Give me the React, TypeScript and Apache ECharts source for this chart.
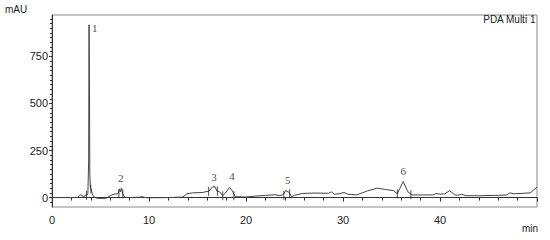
import React, { useEffect, useRef } from "react";
import * as echarts from "echarts";

// Chromatogram trace: [retention time (min), absorbance (mAU)]
const traceTimes = [0, 2.6, 2.8, 2.95, 3.1, 3.3, 3.5, 3.6, 3.7, 3.78, 3.82, 3.86, 3.9, 3.95, 4.05, 4.15, 4.3, 4.6, 5.2, 5.6, 6.0, 6.4, 6.8, 6.95, 7.05, 7.15, 7.3, 7.5, 8, 9, 9.3, 9.6, 10, 12, 13.5, 13.9, 14.5, 15.5, 16.2, 16.5, 16.8, 17.0, 17.3, 17.6, 17.9, 18.3, 18.6, 18.9, 20, 21, 22, 23, 23.5, 23.8, 24.1, 24.4, 24.7, 25, 25.8, 27, 28.5, 28.8, 29.1, 29.6, 30.1, 30.5, 31.4, 32.5, 33.5, 34.5, 35.2, 35.6, 36.2, 36.7, 37.1, 38, 39.3, 39.6, 40, 40.5, 41, 41.5, 41.8, 42.2, 42.7, 44, 46, 46.9, 47.2, 47.6, 49.3, 50];
const traceValues = [0, 0, 8, 15, 10, 5, 15, 12, 20, 200, 918, 600, 120, 55, 45, 20, 5, -3, -5, -3, 10, 18, 20, 45, 30, 50, 20, 2, 0, 2, 5, 0, -1, 0, 3, 20, 25, 27, 35, 55, 58, 35, 30, 10, 25, 55, 35, 5, 3, 8, 12, 15, 10, 15, 37, 30, 5, 12, 22, 24, 23, 30, 18, 20, 27, 18, 14, 35, 50, 42, 37, 20, 85, 30, 14, 14, 14, 22, 18, 20, 37, 15, 12, 18, 10, 10, 12, 14, 25, 20, 25, 55];

// Peak numbers and label anchor positions
const peakNames = ["1", "2", "3", "4", "5", "6"];
const peakLabelTimes = [4.4, 7.1, 16.7, 18.55, 24.3, 36.2];
const peakLabelValues = [900, 105, 110, 115, 94, 142];

// Integration start/end marks
const markTimes = [3.55, 4.0, 6.9, 7.3, 16.15, 17.05, 17.6, 18.75, 23.9, 24.5, 35.6, 37.0];
const markValues = [12, 45, 20, 20, 33, 35, 10, 10, 12, 20, 20, 15];

const yMajorTicks = [0, 250, 500, 750];
const yMinorTicks = Array.from({ length: 40 }, (_, i) => -25 + i * 25);

export default function App() {
  const ref = useRef<HTMLDivElement>(null);
  useEffect(() => {
    if (!ref.current) return;
    const chart = echarts.init(ref.current, null, { renderer: "svg" });
    const sans = "'Liberation Sans', Arial, sans-serif";
    const serif = "'Liberation Serif', 'Times New Roman', serif";
    chart.setOption({
      animation: false,
      backgroundColor: "#fff",
      grid: { left: 52, top: 15, right: 13, bottom: 33, show: true, borderColor: "#888", borderWidth: 1 },
      xAxis: {
        type: "value",
        min: 0,
        max: 50,
        interval: 10,
        axisLine: { lineStyle: { color: "#333" } },
        axisTick: { length: 4, lineStyle: { color: "#333" } },
        minorTick: { show: true, splitNumber: 5, length: 3, lineStyle: { color: "#333" } },
        axisLabel: { color: "#222", fontFamily: sans, fontSize: 11, margin: 7, showMaxLabel: false },
        splitLine: { show: false },
      },
      yAxis: [
        {
          type: "value",
          min: -50,
          max: 970,
          axisLine: { show: true, lineStyle: { color: "#333" } },
          axisTick: { show: true, length: 3, customValues: yMajorTicks, lineStyle: { color: "#333" } },
          axisLabel: { customValues: yMajorTicks, color: "#222", fontFamily: sans, fontSize: 11, margin: 4 },
          splitLine: { show: false },
        },
        {
          type: "value",
          min: -50,
          max: 970,
          position: "left",
          axisLine: { show: false },
          axisTick: { show: true, length: 2, customValues: yMinorTicks, lineStyle: { color: "#333" } },
          axisLabel: { show: false },
          splitLine: { show: false },
        },
      ],
      series: [
        {
          type: "line",
          data: traceTimes.map((t, i) => [t, traceValues[i]]),
          symbol: "none",
          lineStyle: { color: "#444", width: 1 },
          z: 3,
        },
        {
          type: "scatter",
          data: markTimes.map((t, i) => [t, markValues[i]]),
          symbol: "rect",
          symbolSize: [1, 9],
          itemStyle: { color: "#222" },
          z: 4,
        },
        {
          type: "scatter",
          data: peakLabelTimes.map((t, i) => ({ value: [t, peakLabelValues[i]], name: peakNames[i] })),
          symbolSize: 0,
          label: {
            show: true,
            position: "inside",
            formatter: (p: any) => p.name,
            color: "#111",
            fontFamily: serif,
            fontSize: 11,
          },
          z: 5,
        },
      ],
      graphic: [
        { type: "text", left: 5, top: 4, style: { text: "mAU", fill: "#222", font: `10px ${sans}` } },
        { type: "text", right: 14, top: 14, style: { text: "PDA Multi 1", fill: "#222", font: `10px ${sans}` } },
        { type: "text", right: 12, top: 223, style: { text: "min", fill: "#222", font: `10px ${sans}` } },
      ],
    });
    return () => chart.dispose();
  }, []);
  return <div ref={ref} style={{ width: 550, height: 240, position: "absolute", left: 0, top: 0 }} />;
}
